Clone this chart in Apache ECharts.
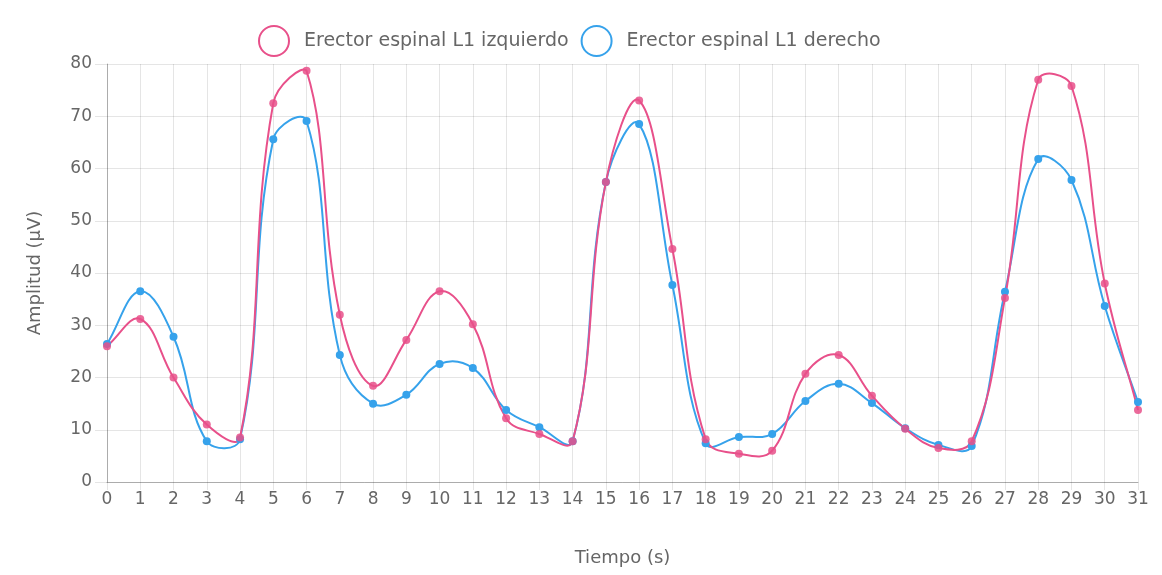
<!DOCTYPE html>
<html><head><meta charset="utf-8">
<script src="https://cdn.jsdelivr.net/npm/echarts@6/dist/echarts.min.js"></script>
<style>html,body{margin:0;padding:0;background:#fff}#c{width:1162px;height:575px}</style>
</head><body><div id="c"></div>
<script>
const categories = ['0','1','2','3','4','5','6','7','8','9','10','11','12','13','14','15','16','17','18','19','20','21','22','23','24','25','26','27','28','29','30','31'];
const izquierdo = [26,31.2,20,11,8.5,72.5,78.7,32,18.4,27.2,36.5,30.2,12.2,9.2,7.8,57.4,73,44.6,8.2,5.4,6,20.7,24.3,16.5,10.2,6.5,7.8,35.2,77,75.8,38,13.8];
const derecho = [26.4,36.5,27.8,7.8,8.2,65.6,69.1,24.3,15,16.7,22.6,21.8,13.8,10.5,7.8,57.4,68.5,37.7,7.4,8.6,9.2,15.5,18.8,15.1,10.3,7.1,6.9,36.4,61.8,57.8,33.7,15.3];
const yTicks = {min:0, max:80, interval:10};
const names = ['Erector espinal L1 izquierdo','Erector espinal L1 derecho'];
const pink = '#e8508a', blue = '#36a2eb';
const gridC = 'rgba(0,0,0,0.1)';
const font = '"DejaVu Sans", sans-serif';
const TENSION = 0.4;
const chart = echarts.init(document.getElementById('c'));

function splinePath(values, api, area){
  const pts = values.map((v,i)=>api.coord([i, v]));
  const n = pts.length;
  const cpPrev = [], cpNext = [];
  for (let i=0;i<n;i++){
    const cur = pts[i];
    const prev = i>0 ? pts[i-1] : cur;
    const next = i<n-1 ? pts[i+1] : cur;
    const d01 = Math.hypot(cur[0]-prev[0], cur[1]-prev[1]);
    const d12 = Math.hypot(next[0]-cur[0], next[1]-cur[1]);
    let s01 = d01/(d01+d12), s12 = d12/(d01+d12);
    if (isNaN(s01)) s01 = 0; if (isNaN(s12)) s12 = 0;
    const fa = TENSION*s01, fb = TENSION*s12;
    const clampY = y => Math.max(area.y, Math.min(area.y+area.height, y));
    const clampX = x => Math.max(area.x, Math.min(area.x+area.width, x));
    cpPrev.push([clampX(cur[0]-fa*(next[0]-prev[0])), clampY(cur[1]-fa*(next[1]-prev[1]))]);
    cpNext.push([clampX(cur[0]+fb*(next[0]-prev[0])), clampY(cur[1]+fb*(next[1]-prev[1]))]);
  }
  let d = 'M' + pts[0][0] + ' ' + pts[0][1];
  for (let i=0;i<n-1;i++){
    d += ' C' + cpNext[i][0] + ' ' + cpNext[i][1] + ' ' + cpPrev[i+1][0] + ' ' + cpPrev[i+1][1] + ' ' + pts[i+1][0] + ' ' + pts[i+1][1];
  }
  return d;
}
function curve(name, values, color, z){
  return {name, type:'custom', coordinateSystem:'cartesian2d', data:[[0,0]], z, silent:true,
    renderItem:(params, api)=>({type:'path', shape:{pathData:splinePath(values, api, params.coordSys)},
      style:{fill:null, stroke:color, lineWidth:2}})};
}
function marks(name, data, color, z, op){
  return {name, type:'line', data, symbol:'circle', symbolSize:8, z,
    lineStyle:{opacity:0}, itemStyle:{color, opacity:op}, emphasis:{disabled:true}};
}
chart.setOption({
  animation:false,
  textStyle:{fontFamily:font},
  legend:{top:20, left:253, itemGap:12, itemWidth:40, itemHeight:30,
    textStyle:{color:'#666', fontSize:19, fontFamily:font, padding:[0,0,0,5]},
    data:[{name:names[0], icon:'circle', itemStyle:{color:'#fff', borderColor:pink, borderWidth:2}},
          {name:names[1], icon:'circle', itemStyle:{color:'#fff', borderColor:blue, borderWidth:2}}]},
  grid:{left:107, right:24, top:64, bottom:93, containLabel:false},
  xAxis:{type:'category', data:categories, boundaryGap:false,
    name:'Tiempo (s)', nameLocation:'middle', nameGap:67,
    nameTextStyle:{color:'#666', fontSize:18, fontFamily:font},
    axisLine:{lineStyle:{color:'rgba(0,0,0,0.25)'}},
    axisTick:{show:true, length:8, lineStyle:{color:gridC}, alignWithLabel:true},
    axisLabel:{color:'#666', fontSize:17, margin:9, interval:0, fontFamily:font},
    splitLine:{show:true, lineStyle:{color:gridC}}},
  yAxis:{type:'value', min:yTicks.min, max:yTicks.max, interval:yTicks.interval,
    name:'Amplitud (µV)', nameLocation:'middle', nameGap:63, nameRotate:90,
    nameTextStyle:{color:'#666', fontSize:18, fontFamily:font},
    axisLine:{show:true, lineStyle:{color:'rgba(0,0,0,0.25)'}},
    axisTick:{show:true, length:12, lineStyle:{color:gridC}},
    axisLabel:{color:'#666', fontSize:17, margin:15, fontFamily:font},
    splitLine:{show:true, lineStyle:{color:gridC}}},
  series:[
    curve(names[1], derecho, blue, 2),
    curve(names[0], izquierdo, pink, 3),
    marks(names[1], derecho, blue, 4, 1),
    marks(names[0], izquierdo, pink, 5, 0.85)
  ]
});
</script></body></html>
